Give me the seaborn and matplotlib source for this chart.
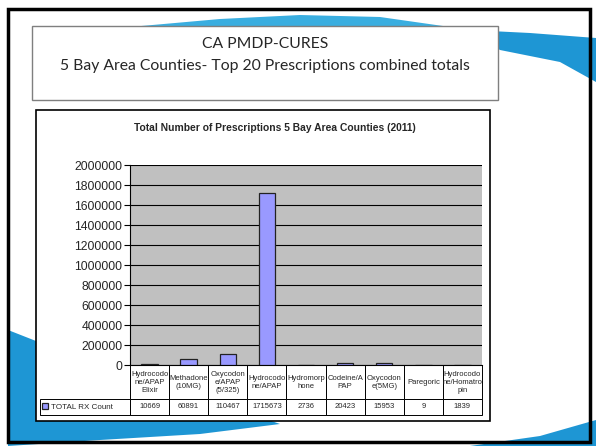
import matplotlib
matplotlib.use("Agg")
import matplotlib.pyplot as plt
from matplotlib.patches import Rectangle, Polygon
import seaborn as sns
import pandas as pd

# ---- data ----
labels = ["Hydrocodo\nne/APAP\nElixir", "Methadone\n(10MG)", "Oxycodon\ne/APAP\n(5/325)",
          "Hydrocodo\nne/APAP", "Hydromorp\nhone", "Codeine/A\nPAP", "Oxycodon\ne(5MG)",
          "Paregoric", "Hydrocodo\nne/Homatro\npin"]
values = [10669, 60891, 110467, 1715673, 2736, 20423, 15953, 9, 1839]
series_name = "TOTAL RX Count"
yticks = [0, 200000, 400000, 600000, 800000, 1000000, 1200000, 1400000,
          1600000, 1800000, 2000000]
slide_title = "CA PMDP-CURES\n5 Bay Area Counties- Top 20 Prescriptions combined totals"
chart_title = "Total Number of Prescriptions 5 Bay Area Counties (2011)"

df = pd.DataFrame({"drug": labels, "count": values})

sns.set_style("white")
plt.rcParams["font.family"] = ["Liberation Sans", "DejaVu Sans"]

W, H = 596, 446
fig = plt.figure(figsize=(W / 100, H / 100), dpi=100)
fig.patch.set_facecolor("white")


def fx(x):
    return x / W


def fy(y):
    return 1 - y / H


def rect(x0, y0, x1, y1, **kw):
    r = Rectangle((fx(x0), fy(y1)), fx(x1) - fx(x0), fy(y0) - fy(y1),
                  transform=fig.transFigure, **kw)
    fig.add_artist(r)


def poly(pts, **kw):
    p = Polygon([(fx(a), fy(b)) for a, b in pts], closed=True,
                transform=fig.transFigure, **kw)
    fig.add_artist(p)


# decorative swooshes
blue = "#1E96D4"
poly([(130, 27), (220, 19), (300, 15), (380, 17), (450, 27)], facecolor="#3AAEE0",
     edgecolor="none", zorder=-5)
poly([(470, 30), (530, 33), (596, 38), (596, 82), (560, 62), (500, 50)],
     facecolor=blue, edgecolor="none", zorder=-5)
poly([(8, 330), (120, 374), (240, 410), (280, 424), (200, 434), (100, 440), (8, 446)],
     facecolor=blue, edgecolor="none", zorder=-5)
poly([(470, 446), (540, 436), (596, 420), (596, 446)], facecolor=blue,
     edgecolor="none", zorder=-5)

# slide border
rect(8, 9, 590, 442, facecolor="none", edgecolor="black", linewidth=2.5, zorder=-4)
# title box
rect(32, 26, 498, 100, facecolor="white", edgecolor="#7F7F7F", linewidth=1, zorder=-3)
fig.text(fx(265), fy(55), slide_title, ha="center", va="center", fontsize=11.3,
         family=["Lato", "DejaVu Sans"], linespacing=1.65, zorder=-2)
# chart box
rect(36, 110, 490, 421, facecolor="white", edgecolor="black", linewidth=1.2, zorder=-3)
fig.text(fx(275), fy(128), chart_title, ha="center", va="center", fontsize=7.4,
         fontweight="bold")

# plot axes
px0, px1, py0, py1 = 130, 482, 165, 365
ax = fig.add_axes([fx(px0), fy(py1), fx(px1) - fx(px0), fy(py0) - fy(py1)])
ax.set_facecolor("#C0C0C0")
sns.barplot(data=df, x="drug", y="count", color="#9999FF", saturation=1,
            edgecolor="#222222", linewidth=0.9, width=0.42, ax=ax,
            label=series_name, zorder=3)
ax.set_ylim(0, 2000000)
ax.set_yticks(yticks)
ax.set_yticklabels([str(t) for t in yticks], fontsize=8.7)
ax.yaxis.grid(True, color="black", linewidth=0.8)
ax.set_axisbelow(True)
ax.tick_params(axis="y", length=4, width=0.8, color="black", pad=1.5, left=True)
ax.tick_params(axis="x", length=0, labelbottom=False)
ax.set_xlabel("")
ax.set_ylabel("")
for s in ["top", "right"]:
    ax.spines[s].set_visible(False)
for s in ["left", "bottom"]:
    ax.spines[s].set_color("black")
    ax.spines[s].set_linewidth(0.8)
ax.set_xlim(-0.5, len(labels) - 0.5)

# data table
legx = 40
cell_text = [[""] + [str(v) for v in values]]
tbl = ax.table(cellText=cell_text, colLabels=[""] + labels, cellLoc="center",
               bbox=[(legx - px0) / (px1 - px0), -50 / 200,
                     (px1 - legx) / (px1 - px0), 50 / 200])
tbl.auto_set_font_size(False)
tbl.set_fontsize(5.5)
colw = (px1 - px0) / len(labels)
for (r, c), cell in tbl.get_celld().items():
    cell.set_linewidth(0.7)
    cell.set_edgecolor("black")
    cell.set_height(34 if r == 0 else 16)
    cell.set_width((px0 - legx) if c == 0 else colw)
    cell.PAD = 0.02
tbl[0, 0].visible_edges = ""

ax.legend(loc="center left",
          bbox_to_anchor=((legx - px0) / (px1 - px0) + 0.005, -42 / 200),
          frameon=False, fontsize=5.8, handlelength=0.8, handleheight=0.8,
          handletextpad=0.4, borderpad=0, borderaxespad=0)

fig.savefig("out.png", dpi=100, facecolor="white")
